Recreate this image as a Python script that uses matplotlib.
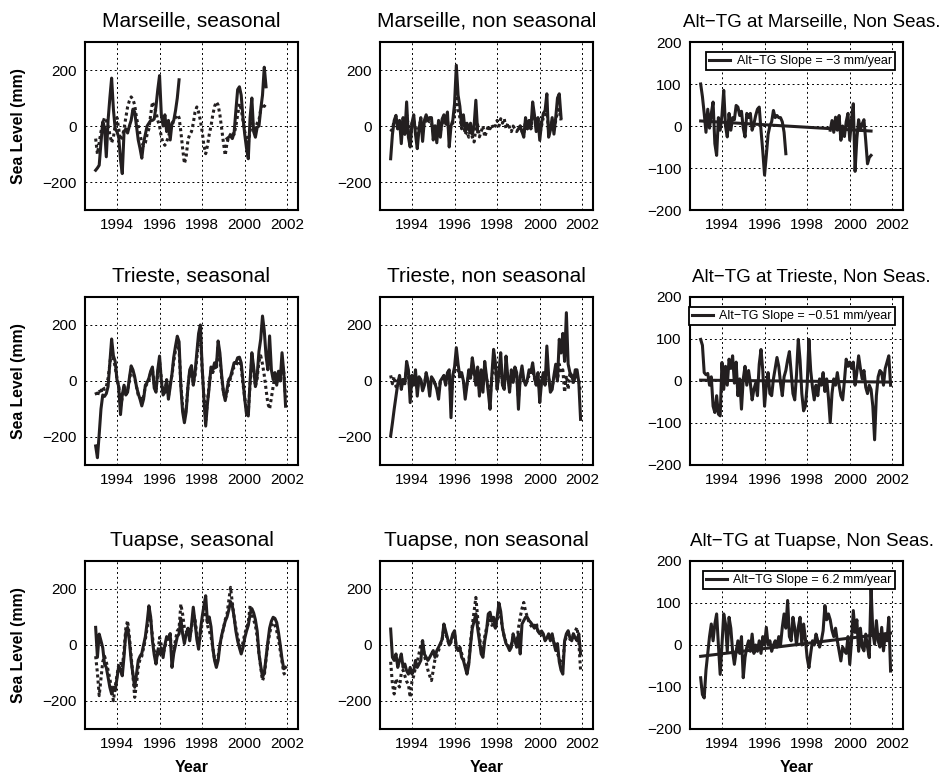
import matplotlib.pyplot as plt
import numpy as np

plt.rcParams["font.family"] = ["Liberation Sans", "DejaVu Sans"]

# Monthly values (mm), first month = Jan 1993. None = no data.
sites = ["Marseille", "Trieste", "Tuapse"]

mar_seas_alt = ([-158, -150, -140, -60, 15, -5, -110, 20, 100, 171,
                 60, -10, -20, -40, -120, -170, -20, -10, -25, 0,
                 20, 60, 50, 0, -50, -80, -115, -60, -30, 0,
                 10, 20, 20, 25, 70, 130, 180, 40, 0, 40,
                 -20, 20, -50, 10, 20, 55, 100, 165]
                + [None] * 26
                + [-45, -40, -35, -45, -25, 55, 130, 140, 110, 30,
                   -30, -80, -117, 30, 100, -20, -40, -5, 0, 60,
                   110, 210, 140])
mar_seas_tg = [-45, -100, -60, -20, 10, 30, 20, 0, -30, -60,
               -40, 0, 30, -10, -50, -40, -10, 30, 68, 90,
               104, 95, 75, 30, 0, -30, -60, -70, -60, -30,
               -10, 40, 86, 70, 50, 20, 0, -40, -60, -69,
               -55, -40, -10, 0, 20, 30, 40, 30, -20, -80,
               -134, -110, -50, -30, -20, 10, 50, 68, 50, 20,
               -20, -70, -99, -70, -30, 0, 40, 70, 86, 75,
               40, -10, -60, -105, -60, -40, -30, -20, -30, 0,
               40, 80, 60, 20, -20, -40, -60, -20, 20, 0,
               -10, 10, 20, 60, 80, 70, 80]
mar_nons_alt = ([-117, -30, 20, 38, -10, 20, -63, 30, -30, 86,
                 -40, -75, 10, 40, -30, -81, -10, 30, -55, 20,
                 40, 20, 30, 30, -50, 0, -60, 20, -40, 25,
                 40, 10, 50, -75, 0, 20, 80, 217, 110, 70,
                 0, 40, -20, 10, -15, 10, -30, 0, 92, -20]
                + [None] * 22
                + [-10, 0, -20, -40, 30, -10, 20, -10, 86, 40,
                   -20, 30, -51, 10, 45, 55, 115, -40, -15, 30,
                   -29, 30, 100, 115, 30])
mar_nons_tg = [-20, -10, 20, 10, -10, 20, -20, 20, -10, 40,
               0, -30, 10, 20, -10, -40, 0, 20, -20, 10,
               20, 10, 20, 10, -20, 0, -30, 10, -20, 10,
               20, 0, 20, -30, 0, 10, 40, 120, 60, 30,
               -10, 20, -30, -20, -40, -10, -39, -57, -10, 5,
               -39, -20, 0, -39, -20, 0, -10, 5, -10, 0,
               20, 0, 26, 10, 26, -10, 10, -5, -20, 0,
               -10, -20, -10, 0, -20, -30, 20, -10, 10, -10,
               50, 30, -10, 20, -30, 0, 30, 30, 60, -20,
               -10, 20, -20, 20, 50, 60, 20]
mar_diff = ([100, 70, 30, -15, 40, -5, 30, 57, -42, -70,
             20, -10, 25, 85, 0, -26, 30, -10, 20, 15,
             49, 45, 25, 35, -5, -26, 30, 20, 30, -10,
             5, 25, 40, 45, -10, -60, -117, -70, -20, 0,
             10, 37, 20, 25, 20, 20, 10, -15, -66]
            + [None] * 24
            + [-10, 13, -15, 21, -10, 25, -34, 0, -25, 10,
               30, -34, 15, 53, -108, -30, 15, -10, 5, 15,
               -35, -90, -75, -70])

tri_seas_alt = [-232, -274, -190, -100, -50, -55, -45, -20, 65, 150,
                90, 70, 5, -20, -120, -50, -15, -50, -40, 10,
                54, 40, 15, -20, -45, -65, -89, -65, -15, -5,
                10, 35, 50, -25, -40, 40, 89, 0, -50, -40,
                5, -65, -20, 25, 85, 125, 160, 140, -20, -110,
                -149, -110, -20, 40, 55, -15, 30, 101, 170, 200,
                50, -65, -161, -80, -20, 50, 40, 65, 50, 143,
                100, 20, -40, -70, -30, 5, 15, 40, 65, 65,
                83, 85, 65, 0, -65, -119, -125, 0, 101, 50,
                -20, 20, 105, 150, 232, 180, 90, 40, 161, 40,
                5, 30, -15, 35, 5, 101, 30, -90]
tri_seas_tg = [-40, -55, -30, -45, -20, -30, -20, 10, 60, 120,
               80, 50, 10, -20, -90, -60, -20, -40, -30, 0,
               40, 30, 10, -20, -50, -60, -70, -55, -20, -10,
               0, 30, 40, -10, -30, 30, 70, 10, -40, -30,
               -5, -55, -10, 20, 70, 110, 140, 110, -10, -90,
               -130, -100, -20, 30, 40, -10, 20, 80, 150, 170,
               40, -50, -140, -70, -10, 40, 30, 50, 40, 120,
               80, 10, -40, -65, -40, -10, 10, 30, 50, 50,
               70, 70, 50, -10, -60, -110, -110, -10, 80, 40,
               -20, 10, 70, 90, 60, 20, -30, -80, -100, -60,
               -20, 20, -10, 30, 0, 60, 30, -60]
tri_nons_alt = [-196, -150, -100, -55, -10, 20, -30, 5, -10, 70,
                40, -77, 20, -15, 40, -54, 15, 5, -35, -15,
                30, 0, -54, 15, 5, -10, -30, -65, 0, 10,
                20, -15, 30, 40, -131, 20, 50, 119, 60, 15,
                30, 0, -65, -15, 40, 15, 83, 40, -15, 50,
                -54, 40, -40, 70, 15, -40, -101, 20, 113, 65,
                -30, 30, 101, -15, -30, 89, 15, -40, 40, -5,
                50, 30, -101, 15, 54, 5, -15, 5, 40, 30,
                65, 15, -15, 30, -77, -5, 30, -15, 125, 20,
                -40, -30, 20, 60, 5, 149, 100, 170, 70, 244,
                60, 30, 20, -5, 40, 40, -5, -137]
tri_nons_tg = [20, -10, 15, -20, 0, 10, -20, 10, 0, 40,
               20, -40, 10, -10, 20, -30, 10, 0, -20, -10,
               20, 0, -30, 10, 0, -10, -20, -40, 0, 5,
               10, -10, 20, 20, -60, 10, 30, 70, 40, 10,
               20, 0, -40, -10, 20, 10, 50, 20, -10, 30,
               -30, 20, -20, 40, 10, -20, -60, 10, 60, 40,
               -20, 20, 60, -10, -20, 50, 10, -20, 20, 0,
               30, 20, -60, 10, 30, 0, -10, 0, 20, 20,
               40, 10, -10, 20, -40, 0, 20, -10, 60, 10,
               -20, -20, 10, 30, 0, 60, 30, 40, -40, 20,
               -30, 30, 10, -10, 20, 10, 0, -40]
tri_diff = [99, 85, 20, 15, 18, -10, 10, -60, -75, -35,
            -79, -83, 44, -20, 35, -10, 52, 30, 60, -5,
            45, -35, 5, -67, 5, 35, -10, 25, -5, -45,
            -20, -5, -35, 40, 75, 25, -60, -10, 20, -30,
            -35, 5, 30, 56, 35, -5, -35, 10, 25, 50,
            70, 20, -30, -45, 15, 99, 50, -30, -71, -60,
            -10, 99, 25, -15, -45, -10, -35, 5, -10, 20,
            -25, 5, -40, -99, -30, 5, -10, 20, -10, -35,
            -45, 0, 52, 35, 45, 30, 45, -10, 20, 60,
            30, 5, 25, -15, -30, -10, -20, -60, -140, -35,
            10, 25, 20, -10, 30, 45, 60, -10]

tua_seas_alt = [63, -44, 39, 15, -10, -68, -80, -115, -151, -175,
                -151, -163, -120, -75, -90, -110, -40, 45, 63, 15,
                -55, -105, -151, -105, -55, -40, -30, 0, 30, 80,
                140, 100, 15, -35, -68, -20, -32, -10, -45, 0,
                30, 20, 40, -80, -30, 0, 30, 40, 95, 40,
                5, 40, 60, 15, 70, 135, 80, 20, -15, 50,
                100, 140, 176, 80, 100, 65, -10, -55, -80, -55,
                0, 35, 60, 85, 100, 125, 155, 140, 100, 50,
                15, -10, -32, -10, 25, 50, 70, 110, 130, 115,
                90, 50, -30, -75, -115, -100, -45, 10, 60, 85,
                99, 95, 80, 45, 0, -50, -85, -80]
tua_seas_tg = [-40, -100, -181, -120, -60, -40, -60, -90, -120, -160,
               -199, -150, -110, -70, -60, -80, -20, 60, 87, 30,
               -40, -110, -187, -140, -80, -50, -40, -10, 20, 60,
               110, 90, 30, -20, -50, -30, 27, 0, -30, -10,
               20, 30, 40, -50, -20, 20, 50, 60, 146, 110,
               60, 50, 50, 30, 60, 110, 90, 40, 0, 30,
               80, 110, 130, 70, 50, 30, -10, -50, -70, -40,
               0, 30, 60, 90, 110, 158, 206, 150, 100, 60,
               30, 0, -20, 10, 40, 60, 80, 140, 110, 90,
               70, 30, -30, -80, -127, -110, -50, 0, 40, 70,
               80, 70, 50, 20, -20, -60, -100, -110]
tua_nons_alt = [57, -44, -55, -32, -80, -55, -32, -80, -68, -92,
                -104, -80, -104, -92, -55, -80, -68, -55, 15, -32,
                -44, -55, -44, -32, -20, -44, -20, -8, 5, 20,
                75, 50, 25, 0, 15, 40, 51, -8, -20, -8,
                -44, -55, -80, -104, -70, 0, 60, 85, 111, 60,
                15, -32, -44, 15, 51, 111, 117, 85, 99, 60,
                99, 150, 120, 60, 30, 5, -5, -20, -8, 40,
                15, -8, 40, -32, 75, 87, 99, 99, 87, 80,
                70, 60, 70, 50, 40, 50, 40, 15, 25, 40,
                15, 40, 5, -20, 5, -60, -90, -104, 15, 40,
                51, 25, 15, 40, 25, 15, 40, -32]
tua_nons_tg = [-60, -140, -175, -120, -140, -150, -100, -90, -110, -130,
               -140, -187, -130, -110, -80, -60, -30, 0, 15, -40,
               -60, -90, -110, -127, -90, -50, -40, -20, 0, 20,
               60, 40, 20, 0, 10, 30, 40, -10, -20, -10,
               -30, -50, -70, -90, -60, 10, 70, 120, 170, 100,
               30, -10, -20, 30, 60, 80, 90, 70, 80, 60,
               90, 130, 100, 60, 30, 10, 0, -10, 0, 30,
               20, 10, 60, 100, 130, 152, 120, 100, 80, 70,
               60, 70, 80, 50, 40, 40, 30, 20, 30, 30,
               20, 30, 10, -10, -30, -50, -60, -70, 10, 30,
               40, 20, 20, 40, 50, 63, 10, -90]
tua_diff = [-78, -118, -126, -60, -20, 20, 50, 10, 50, 74,
            0, -70, 0, 74, 50, -15, 66, 40, -15, -46,
            -15, 10, -20, 20, -78, -30, -5, 10, -15, 26,
            -20, 0, -15, 10, -20, 20, 0, 42, 0, 10,
            -15, 0, 10, -5, 20, 0, 42, 74, 40, 106,
            20, 10, 66, 40, 0, 42, 66, 0, 50, 15,
            -30, -54, -20, 10, 0, 26, 10, -5, 10, 34,
            94, 60, 74, 60, 35, 20, 40, 10, -14, -38,
            -5, -14, -20, 20, -46, 10, 82, 30, 60, -15,
            40, -5, -14, 26, -5, -30, 138, 30, 2, 58,
            10, -5, 42, -14, 26, 10, 66, -62]

# linear trend of Alt-TG: slope (mm/year, from legend) and value at 1993
trend_slopes = [-3, -0.51, 6.2]
trend_starts = [12, 2, -27]
slope_labels = ["-3", "-0.51", "6.2"]

seasonal = [(mar_seas_alt, mar_seas_tg), (tri_seas_alt, tri_seas_tg), (tua_seas_alt, tua_seas_tg)]
nonseasonal = [(mar_nons_alt, mar_nons_tg), (tri_nons_alt, tri_nons_tg), (tua_nons_alt, tua_nons_tg)]
differences = [mar_diff, tri_diff, tua_diff]

year_ticks = [1994, 1996, 1998, 2000, 2002]
INK = "#231f20"


def months(values):
    return 1993 + np.arange(len(values)) / 12.0


def series(values):
    return np.array(values, dtype=float)


def style_axes(ax, yticks, ylim):
    ax.set_xlim(1992.5, 2002.5)
    ax.set_ylim(*ylim)
    ax.set_xticks(year_ticks)
    ax.set_yticks(yticks)
    ax.tick_params(length=0, labelsize=11, pad=6)
    ax.grid(True, color="black", linestyle=(0, (2, 3)), linewidth=0.7)
    for sp in ax.spines.values():
        sp.set_linewidth(1.5)


fig = plt.figure(figsize=(9.53, 7.75), dpi=100)
lefts = [85, 380, 690]
tops = [42, 297, 561]
W, H = 213, 168

for r, site in enumerate(sites):
    axes = [fig.add_axes([l / 953, 1 - (tops[r] + H) / 775, W / 953, H / 775]) for l in lefts]

    for ax, (alt, tg), kind in zip(axes[:2], [seasonal[r], nonseasonal[r]], ["seasonal", "non seasonal"]):
        ax.plot(months(tg), series(tg), color=INK, linestyle=(0, (1, 1)), linewidth=2.2)
        ax.plot(months(alt), series(alt), color=INK, linewidth=2.2)
        style_axes(ax, [-200, 0, 200], (-300, 300))
        ax.set_title(f"{site}, {kind}", fontsize=15, pad=11)

    ax = axes[2]
    d = differences[r]
    t = months(d)
    ax.plot(t, series(d), color=INK, linewidth=2.2,
            label=f"Alt\u2212TG Slope = {slope_labels[r].replace('-', '\u2212')} mm/year")
    tt = np.array([t[0], t[-1]])
    ax.plot(tt, trend_starts[r] + trend_slopes[r] * (tt - 1993), color=INK, linewidth=2.2)
    style_axes(ax, [-200, -100, 0, 100, 200], (-200, 200))
    ax.set_title(f"Alt\u2212TG at {site}, Non Seas.", fontsize=13.5, pad=11, x=0.571)
    leg = ax.legend(loc="upper right", bbox_to_anchor=(0.962, 0.94), borderaxespad=0,
                    fontsize=9, handlelength=1.7, handletextpad=0.5, borderpad=0.25,
                    fancybox=False, framealpha=1)
    leg.get_frame().set_edgecolor("black")
    leg.get_frame().set_linewidth(1.3)

    axes[0].set_ylabel("Sea Level (mm)", fontsize=11.3, fontweight="bold", labelpad=12)
    if r == 2:
        for a in axes:
            a.set_xlabel("Year", fontsize=11.5, fontweight="bold", labelpad=6)

fig.savefig("out.png", dpi=100)
